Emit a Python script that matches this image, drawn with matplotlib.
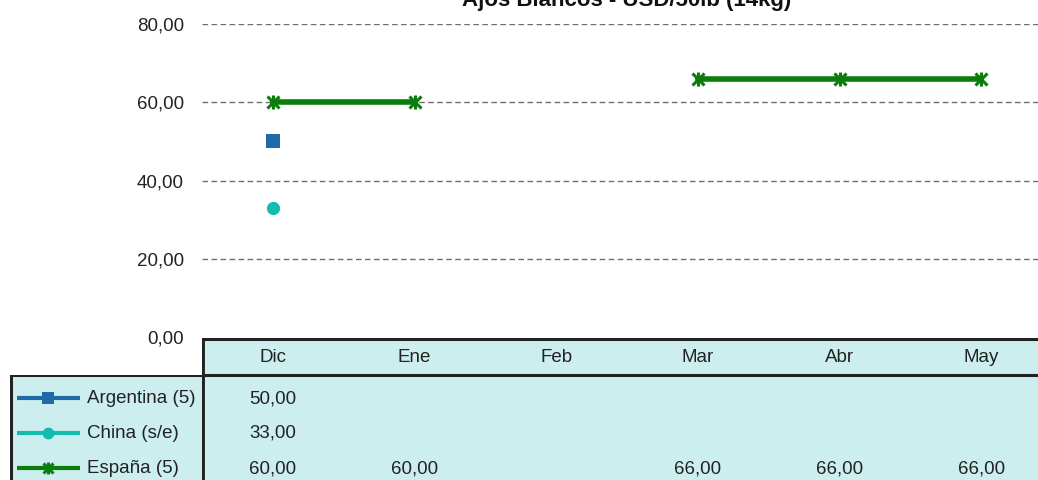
import matplotlib.pyplot as plt
import numpy as np

plt.rcParams['font.family'] = ['Liberation Sans', 'DejaVu Sans']

months = ["Dic", "Ene", "Feb", "Mar", "Abr", "May"]
argentina = [50.0, None, None, None, None, None]
china = [33.0, None, None, None, None, None]
espana = [60.0, 60.0, None, 66.0, 66.0, 66.0]

series = [
    ("Argentina (5)", argentina, "#1f6aa8", "s"),
    ("China (s/e)", china, "#13bcb0", "o"),
    ("España (5)", espana, "#0a7d0a", "star"),
]

TITLE = "Ajos Blancos - USD/50lb (14kg)"
TABLE_BG = "#cdeeee"
EDGE = "#222222"
FS = 13.5

W, H = 1038, 480
fig = plt.figure(figsize=(W / 100, H / 100), dpi=100)

def fx(px):
    return px / W

def fy(py):
    return 1 - py / H

def draw_marker(a, xs, ys, mk, col, size):
    # excel-style star: an x with a vertical bar through it
    if mk == "star":
        a.plot(xs, ys, ls='none', marker='x', ms=size * 0.9, mew=2.2, color=col, zorder=4)
        a.plot(xs, ys, ls='none', marker='|', ms=size * 1.1, mew=2.2, color=col, zorder=4)
    else:
        a.plot(xs, ys, ls='none', marker=mk, ms=size, mew=0, color=col, zorder=4)

# main chart
x0, x1 = 202, 1052
ax = fig.add_axes([fx(x0), fy(337), fx(x1 - x0), fy(24) - fy(337)])
x = np.arange(len(months))
for name, vals, col, mk in series:
    y = np.array([np.nan if v is None else v for v in vals])
    ax.plot(x, y, color=col, lw=4, zorder=3)
    draw_marker(ax, x, y, mk, col, 9.5)
ax.set_xlim(-0.5, len(months) - 0.5)
ax.set_ylim(0, 80)
ticks = [0, 20, 40, 60, 80]
ax.set_yticks(ticks)
ax.set_yticklabels([f"{v:.2f}".replace(".", ",") for v in ticks], fontsize=FS, color='#222222')
ax.tick_params(axis='y', length=0, pad=13)
ax.set_xticks([])
for s in ax.spines.values():
    s.set_visible(False)
for gv in ticks[1:]:
    ax.axhline(gv, color="#6e6e6e", lw=1.0, ls=(0, (4, 2.5)), zorder=1)

fig.text(fx((x0 + x1) / 2), fy(6), TITLE, ha='center', va='baseline',
         fontsize=16, fontweight='bold', color='#111111')

# data table
top, hdr, row_h = 338, 375, 35
bot = hdr + row_h * len(series)
tab = fig.add_axes([fx(x0), fy(bot), fx(x1 - x0), fy(top) - fy(bot)])
tab.set_xlim(-0.5, len(months) - 0.5)
tab.set_ylim(bot, top)
tab.set_facecolor(TABLE_BG)
tab.set_xticks([])
tab.set_yticks([])
for s in tab.spines.values():
    s.set_visible(False)
tab.axhline(top + 1, color=EDGE, lw=2.2)
tab.axhline(hdr, color=EDGE, lw=2.2)
tab.axvline(-0.5, color=EDGE, lw=3.5)
for i, m in enumerate(months):
    tab.text(i, (top + hdr) / 2 + 1, m, ha='center', va='center', fontsize=FS, color='#222222')
for r, (name, vals, col, mk) in enumerate(series):
    yc = hdr + row_h * r + row_h / 2 + 6
    for i, v in enumerate(vals):
        if v is not None:
            tab.text(i, yc, f"{v:.2f}".replace(".", ","), ha='center', va='center',
                     fontsize=FS, color='#222222')

# legend column
lx0 = 10
leg = fig.add_axes([fx(lx0), fy(bot), fx(x0 - lx0), fy(hdr) - fy(bot)])
leg.set_xlim(lx0, x0)
leg.set_ylim(bot, hdr)
leg.set_facecolor(TABLE_BG)
leg.set_xticks([])
leg.set_yticks([])
for s in leg.spines.values():
    s.set_visible(False)
leg.axvline(lx0 + 1, color=EDGE, lw=2.2)
leg.axhline(hdr, color=EDGE, lw=2.2)
for r, (name, vals, col, mk) in enumerate(series):
    yc = hdr + row_h * r + row_h / 2 + 6
    leg.plot([17, 80], [yc, yc], color=col, lw=3, solid_capstyle='butt')
    draw_marker(leg, [48], [yc], mk, col, 8.5)
    leg.text(87, yc, name, ha='left', va='center', fontsize=FS, color='#222222')

fig.savefig("out.png", dpi=100)
